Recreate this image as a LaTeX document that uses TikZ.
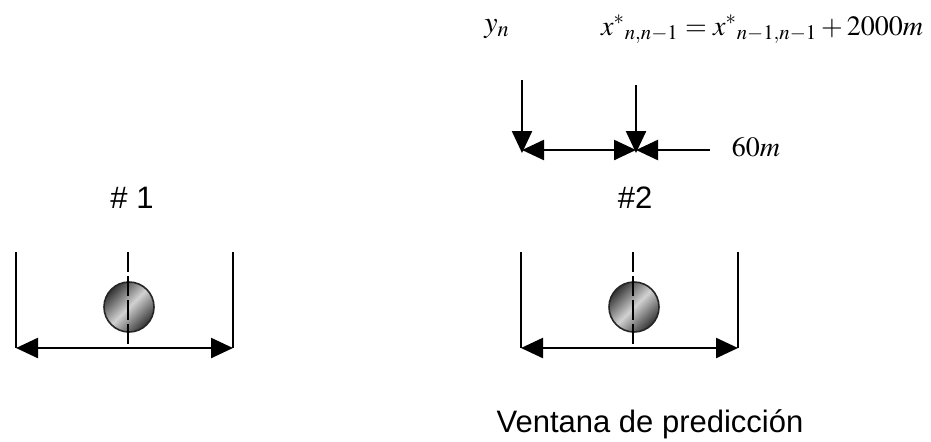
\documentclass[tikz,border=0pt]{standalone}
\usepackage{mathptmx}
\usepackage[no-math]{fontspec}
\setmainfont{Liberation Sans}
\usetikzlibrary{arrows.meta}

\begin{document}
\begin{tikzpicture}[x=0.5pt, y=-0.5pt, line width=1.2pt,
	fl/.style={-{Triangle[length=11pt, width=10pt]}},
	dfl/.style={{Triangle[length=11pt, width=10pt]}-{Triangle[length=11pt, width=10pt]}},
	eje/.style={dash pattern=on 10pt off 2pt, line width=1pt},
	bola/.style={shading=axis, top color=black!80, bottom color=black!80,
		middle color=black!18, shading angle=45, draw=black!85, line width=0.8pt},
	tit/.style={font=\fontsize{15.5}{17}\selectfont, anchor=base},
	mat/.style={font=\fontsize{14}{16}\selectfont, anchor=base}]

	\useasboundingbox (0,0) rectangle (931,441);

	% ---------- ventanas ----------
	\foreach \c/\k in {128/1, 633/2}{
		\coordinate (izq\k) at (\c-112,252);
		\coordinate (der\k) at (\c+105,252);
		\coordinate (izqb\k) at (\c-112,348);
		\coordinate (derb\k) at (\c+105,348);
		\coordinate (ejea\k) at (\c,252);
		\coordinate (ejeb\k) at (\c,348);
		\draw (izq\k) -- (izqb\k);
		\draw (der\k) -- (derb\k);
		\draw[dfl] (izqb\k) -- (derb\k);
		\shade[bola] (\c+1,307) circle (12.5pt);
		\draw[eje] (ejea\k) -- (ejeb\k);
	}
	\node[tit] (num1) at (132,208) {\# 1};
	\node[tit] (num2) at (635,208) {\#2};
	\node[tit] (vent) at (650,432) {Ventana de predicci\'on};

	% ---------- prediccion ----------
	\coordinate (ya) at (522,80);
	\coordinate (yb) at (522,153);
	\coordinate (xa) at (636,85);
	\coordinate (xb) at (636,153);
	\coordinate (h1) at (522,150);
	\coordinate (h2) at (636,150);
	\coordinate (h3) at (710,150);
	\draw[fl] (ya) -- (yb);
	\draw[fl] (xa) -- (xb);
	\draw[dfl] (h1) -- (h2);
	\draw[fl] (h3) -- (h2);

	\node[mat, font=\fontsize{15}{17}\selectfont] (yn) at (497,32) {$y_n$};
	\node[mat] (eq) at (762,35) {$x^{*}{}_{n,n-1} = x^{*}{}_{n-1,n-1} + 2000m$};
	\node[mat] (dist) at (756,156) {$60m$};
\end{tikzpicture}
\end{document}
